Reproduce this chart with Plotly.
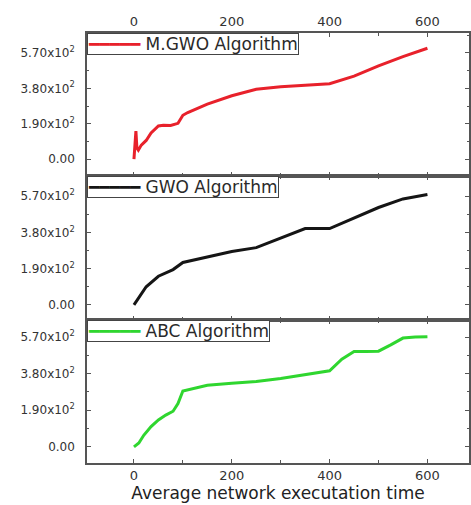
import plotly.graph_objects as go

# ---- data ----
mgwo_x = [0, 2, 4, 6, 9, 15, 25, 35, 50, 60, 75, 90, 100, 110, 150, 200, 250, 300, 350, 400, 450, 500, 550, 600]
mgwo_y = [0, 90, 150, 60, 48, 75, 100, 140, 178, 182, 180, 192, 235, 250, 295, 340, 375, 388, 395, 405, 445, 500, 550, 595]

gwo_x = [0, 10, 25, 50, 80, 100, 150, 200, 250, 300, 350, 400, 450, 500, 550, 600]
gwo_y = [0, 40, 95, 150, 185, 222, 252, 280, 300, 350, 400, 400, 455, 510, 555, 578]

abc_x = [0, 10, 20, 35, 50, 65, 80, 90, 100, 125, 150, 200, 250, 300, 350, 400, 425, 450, 475, 500, 525, 550, 575, 600]
abc_y = [0, 20, 60, 105, 140, 165, 185, 225, 290, 305, 320, 330, 340, 355, 375, 395, 455, 495, 495, 497, 530, 565, 570, 572]

names = ["M.GWO Algorithm", "GWO Algorithm", "ABC Algorithm"]
colors = ["#e8212b", "#151515", "#2fd62f"]

y_tickvals = [0, 190, 380, 570]
y_ticktext = ["0.00", "1.90x10<sup>2</sup>", "3.80x10<sup>2</sup>", "5.70x10<sup>2</sup>"]
x_tickvals = [0, 200, 400, 600]

FONT = "DejaVu Sans"
AX = "#555555"

fig = go.Figure()
series = [(mgwo_x, mgwo_y), (gwo_x, gwo_y), (abc_x, abc_y)]
for i, (xs, ys) in enumerate(series):
    sfx = "" if i == 0 else str(i + 1)
    fig.add_trace(go.Scatter(
        x=xs, y=ys, mode="lines", name=names[i],
        line=dict(color=colors[i], width=3),
        xaxis="x" + sfx, yaxis="y" + sfx,
        showlegend=False,
    ))

domains = [(0.6674, 1.0), (0.3326, 0.6674), (0.0, 0.3326)]
yranges = [(-91, 677), (-79, 675), (-84, 659)]

layout = dict(
    width=471, height=505,
    margin=dict(l=87, r=0, t=33, b=42),
    paper_bgcolor="white", plot_bgcolor="white",
    font=dict(family=FONT, color="#333333"),
    showlegend=False,
)

annotations = []
for i in range(3):
    sfx = "" if i == 0 else str(i + 1)
    xa = dict(
        domain=[0, 1], anchor="y" + sfx, range=[-96, 685],
        tickvals=x_tickvals, ticks="inside", ticklen=4, tickcolor=AX,
        minor=dict(dtick=100, tick0=0, ticks="inside", ticklen=3, tickcolor=AX),
        showline=True, linecolor=AX, linewidth=1.5, mirror="ticks",
        showgrid=False, zeroline=False,
        tickfont=dict(size=13, color="#333333"),
        showticklabels=(i != 1),
        side="top" if i == 0 else "bottom",
    )
    if i == 2:
        xa["title"] = dict(text="Average network executation time",
                           font=dict(size=17, color="#222222"), standoff=4)
    ya = dict(
        domain=list(domains[i]), anchor="x" + sfx, range=list(yranges[i]),
        tickvals=y_tickvals, ticktext=y_ticktext,
        ticks="inside", ticklen=4, tickcolor=AX,
        minor=dict(dtick=95, tick0=0, ticks="inside", ticklen=2, tickcolor=AX),
        showline=True, linecolor=AX, linewidth=1.5, mirror="ticks",
        showgrid=False, zeroline=False,
        tickfont=dict(size=12, color="#333333"),
        ticklabelstandoff=8,
    )
    layout["xaxis" + sfx] = xa
    layout["yaxis" + sfx] = ya
    # legend box (line sample + name)
    annotations.append(dict(
        xref="paper", yref="paper", x=0, y=domains[i][1],
        xanchor="left", yanchor="top", showarrow=False, align="left",
        text=f"<span style='color:{colors[i]}'>━━━━━</span> {names[i]}",
        font=dict(size=17, color="#2a2a2a", family=FONT),
        bgcolor="white", bordercolor="#444444", borderwidth=1, borderpad=0,
    ))

layout["annotations"] = annotations
fig.update_layout(**layout)
fig.write_html("out.html")
